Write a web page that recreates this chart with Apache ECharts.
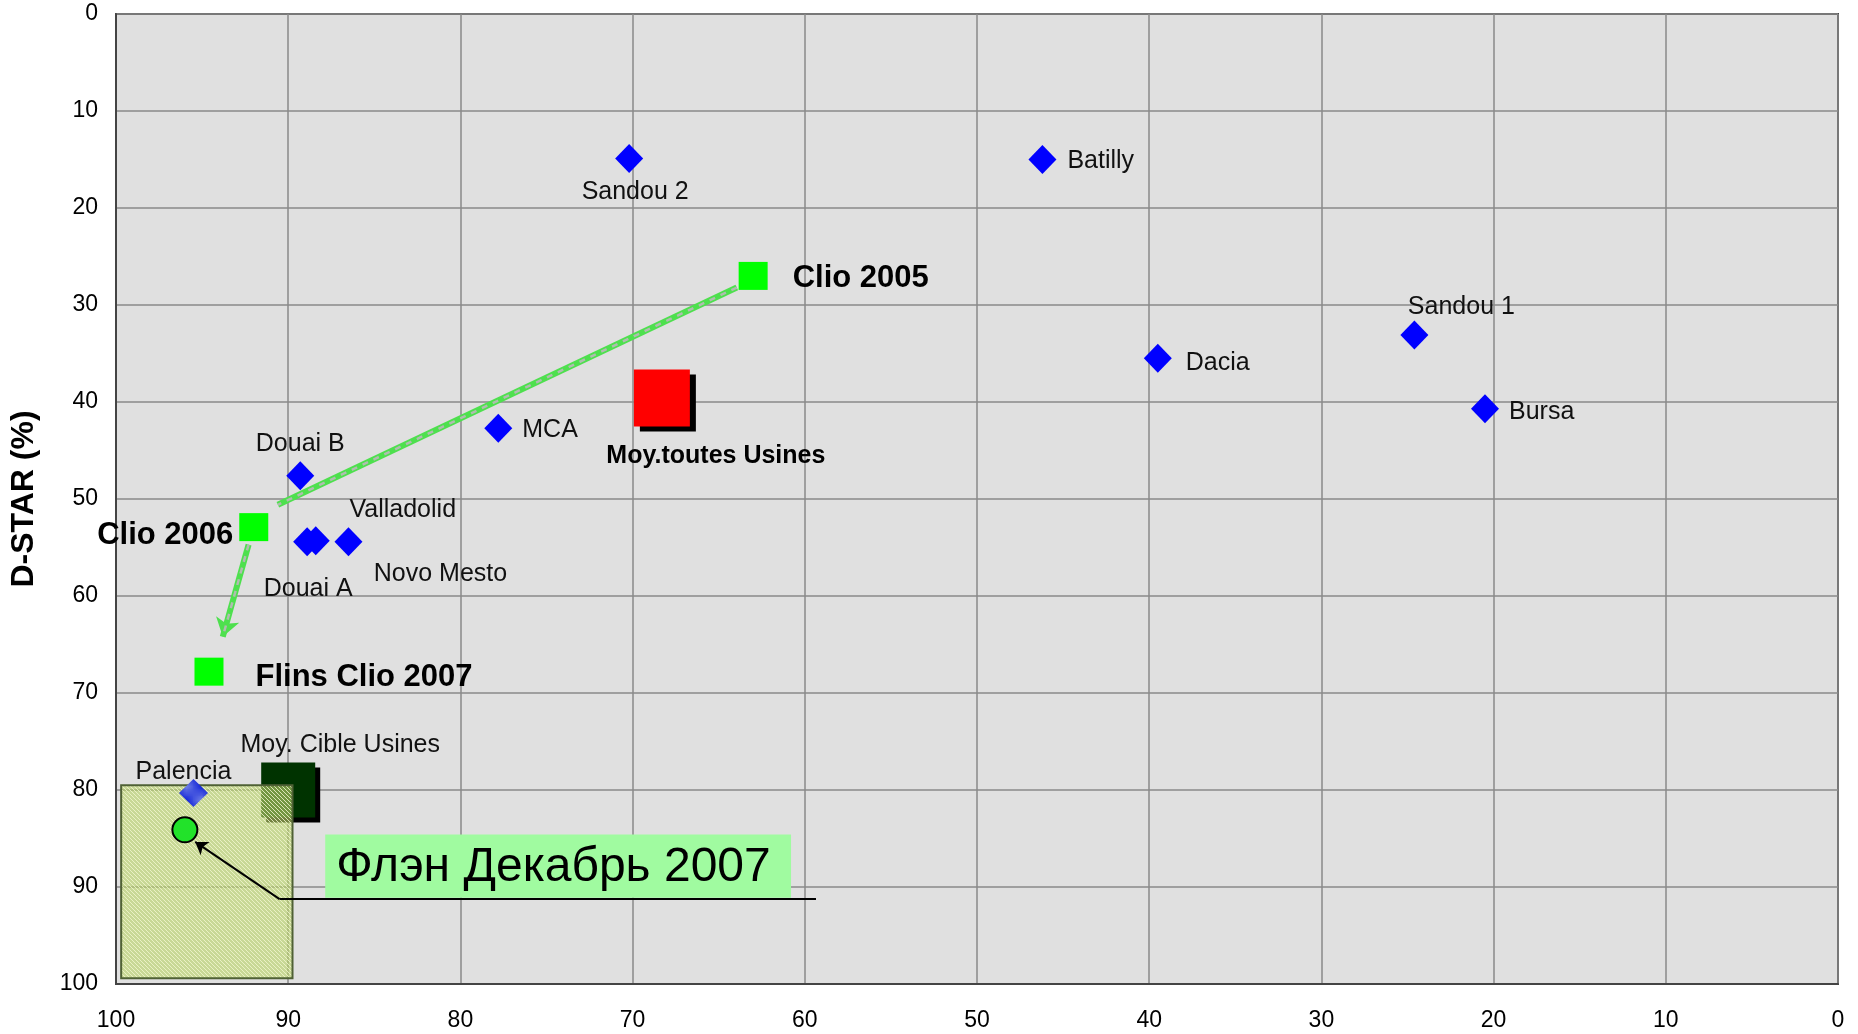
<!DOCTYPE html>
<html>
<head>
<meta charset="utf-8">
<script src="https://cdn.jsdelivr.net/npm/echarts@6/dist/echarts.min.js"></script>
<style>
html,body{margin:0;padding:0;background:#fff;}
#chart{width:1858px;height:1034px;}
</style>
</head>
<body>
<div id="chart"></div>
<script>
// ---------- DATA ----------
const axisTicks = [0, 10, 20, 30, 40, 50, 60, 70, 80, 90, 100];
const yAxisTitle = 'D-STAR (%)';

const plantNames = ['Sandou 2', 'Batilly', 'Sandou 1', 'Dacia', 'Bursa', 'MCA', 'Douai B', 'Douai A', 'Valladolid', 'Novo Mesto'];
const plantX     = [70.2, 46.2, 24.6, 39.5, 20.5, 77.8, 89.3, 88.9, 88.4, 86.5];
const plantY     = [14.9, 15.0, 33.1, 35.5, 40.7, 42.7, 47.6, 54.4, 54.3, 54.4];

const clioNames = ['Clio 2005', 'Clio 2006', 'Flins Clio 2007'];
const clioX     = [63.0, 92.0, 94.6];
const clioY     = [27.0, 52.9, 67.8];

const avgAllName = 'Moy.toutes Usines';
const avgAllX = 68.3, avgAllY = 39.6;
const avgTargetName = 'Moy. Cible Usines';
const avgTargetX = 90.0, avgTargetY = 80.0;
const palenciaName = 'Palencia';
const palenciaX = 95.5, palenciaY = 80.3;
const flinsDecX = 96.0, flinsDecY = 84.1;

const targetBox = [99.7, 79.5, 89.75, 99.4];          // x0, y0, x1, y1
const trendLine1 = [[63.95, 28.2], [90.6, 50.6]];
const trendLine2 = [[92.3, 54.7], [93.8, 64.2]];

const noteText = 'Флэн Декабрь 2007';
const noteBox = [87.85, 84.6, 60.8, 91.1];            // x0, y0, x1, y1
const noteLeaderArrow = [[90.5, 91.25], [95.4, 85.35]];
const noteLeaderLine  = [[90.5, 91.25], [59.35, 91.25]];

// ---------- STYLE (label placement) ----------
const plantLabelStyle = {
  'Sandou 2':   {position: 'inside', offset: [6, 34]},
  'Batilly':    {position: 'right', distance: 11, offset: [0, 2]},
  'Sandou 1':   {position: 'inside', offset: [47, -28]},
  'Dacia':      {position: 'right', distance: 14, offset: [0, 5]},
  'Bursa':      {position: 'right', distance: 10, offset: [0, 3]},
  'MCA':        {position: 'right', distance: 10, offset: [0, 2]},
  'Douai B':    {position: 'inside', offset: [0, -32]},
  'Douai A':    {position: 'inside', offset: [1, 47]},
  'Valladolid': {position: 'inside', offset: [87, -31]},
  'Novo Mesto': {position: 'inside', offset: [92, 32]}
};
const clioLabelStyle = {
  'Clio 2005':       {position: 'right', distance: 25, offset: [0, 3]},
  'Clio 2006':       {position: 'left', distance: 6, offset: [0, 8]},
  'Flins Clio 2007': {position: 'right', distance: 32, offset: [0, 6]}
};

const FONT = '"Liberation Sans", Arial, sans-serif';

function makePattern(base, dot) {
  const c = document.createElement('canvas');
  c.width = 4; c.height = 4;
  const g = c.getContext('2d');
  g.fillStyle = base;
  g.fillRect(0, 0, 4, 4);
  g.fillStyle = dot;
  [[0,0],[2,2],[1,1],[3,3]].forEach(function(p){ g.fillRect(p[0], p[1], 1, 1); });
  return c;
}
const hatch = makePattern('rgba(185,212,105,0.62)', 'rgba(240,246,205,0.85)');
const blueHatch = makePattern('#1426d8', '#7080e6');

const chart = echarts.init(document.getElementById('chart'), null, {renderer: 'canvas'});

const plantData = plantNames.map(function(n, i){
  const s = plantLabelStyle[n];
  return {name: n, value: [plantX[i], plantY[i]], label: Object.assign({show: true, formatter: n}, s)};
});
const clioData = clioNames.map(function(n, i){
  const s = clioLabelStyle[n];
  return {name: n, value: [clioX[i], clioY[i]], label: Object.assign({show: true, formatter: n}, s)};
});

function rectFrom(api, box) {
  const p0 = api.coord([box[0], box[1]]);
  const p1 = api.coord([box[2], box[3]]);
  return {
    x: Math.min(p0[0], p1[0]), y: Math.min(p0[1], p1[1]),
    width: Math.abs(p1[0] - p0[0]), height: Math.abs(p1[1] - p0[1])
  };
}

const option = {
  backgroundColor: '#ffffff',
  animation: false,
  grid: {
    left: 116, right: 20, top: 14, bottom: 50,
    show: true, backgroundColor: '#e0e0e0', borderColor: '#444', borderWidth: 2
  },
  xAxis: {
    type: 'value', inverse: true, min: axisTicks[0], max: axisTicks[axisTicks.length - 1], interval: 10,
    axisLine: {show: true, onZero: false, lineStyle: {color: '#444', width: 2}},
    axisTick: {show: false},
    splitLine: {show: true, lineStyle: {color: '#8a8a8a', width: 1.5}},
    axisLabel: {color: '#000', fontSize: 23, fontFamily: FONT, margin: 25}
  },
  yAxis: {
    type: 'value', inverse: true, min: axisTicks[0], max: axisTicks[axisTicks.length - 1], interval: 10,
    name: yAxisTitle, nameLocation: 'middle', nameRotate: 90, nameGap: 76,
    nameTextStyle: {color: '#000', fontSize: 32, fontWeight: 'bold', fontFamily: FONT},
    axisLine: {show: true, onZero: false, lineStyle: {color: '#444', width: 2}},
    axisTick: {show: false},
    splitLine: {show: true, lineStyle: {color: '#8a8a8a', width: 1.5}},
    axisLabel: {color: '#000', fontSize: 23, fontFamily: FONT, margin: 18}
  },
  series: [
    // trend lines (green dashed)
    {
      type: 'lines', coordinateSystem: 'cartesian2d', z: 3, symbol: ['none', 'none'],
      lineStyle: {color: '#4ee04e', width: 6, opacity: 1},
      data: [{coords: trendLine1}]
    },
    {
      type: 'lines', coordinateSystem: 'cartesian2d', z: 4, symbol: ['none', 'none'],
      lineStyle: {color: '#b0bcb0', width: 2.5, type: [6, 6], opacity: 1},
      data: [{coords: trendLine1}]
    },
    {
      type: 'lines', coordinateSystem: 'cartesian2d', z: 3, symbol: ['none', 'arrow'], symbolSize: [16, 18],
      lineStyle: {color: '#4ee04e', width: 6, opacity: 1},
      data: [{coords: trendLine2}]
    },
    {
      type: 'lines', coordinateSystem: 'cartesian2d', z: 4, symbol: ['none', 'none'],
      lineStyle: {color: '#b0bcb0', width: 2.5, type: [6, 6], opacity: 1},
      data: [{coords: trendLine2}]
    },
    // blue plants
    {
      type: 'scatter', z: 5, symbol: 'diamond', symbolSize: [28, 29],
      itemStyle: {color: '#0000ff', opacity: 1},
      label: {color: '#111', fontSize: 25, fontFamily: FONT},
      data: plantData
    },
    // Clio squares
    {
      type: 'scatter', z: 5, symbol: 'rect', symbolSize: [29, 28],
      itemStyle: {color: '#00ff00', opacity: 1},
      label: {color: '#000', fontSize: 31, fontWeight: 'bold', fontFamily: FONT},
      data: clioData
    },
    // average all plants
    {
      type: 'scatter', z: 5, symbol: 'rect', symbolSize: [56, 57],
      itemStyle: {color: '#ff0000', opacity: 1, shadowColor: '#000', shadowBlur: 0, shadowOffsetX: 6, shadowOffsetY: 5},
      label: {show: true, position: 'inside', offset: [54, 58], color: '#000', fontSize: 25, fontWeight: 'bold', fontFamily: FONT, formatter: avgAllName},
      data: [[avgAllX, avgAllY]]
    },
    // average target
    {
      type: 'scatter', z: 5, symbol: 'rect', symbolSize: [54, 55],
      itemStyle: {color: '#003300', opacity: 1, shadowColor: '#000', shadowBlur: 0, shadowOffsetX: 5, shadowOffsetY: 5},
      label: {show: true, position: 'inside', offset: [52, -45], color: '#111', fontSize: 25, fontFamily: FONT, formatter: avgTargetName},
      data: [[avgTargetX, avgTargetY]]
    },
    // target box (hatched)
    {
      type: 'custom', coordinateSystem: 'cartesian2d', z: 6, silent: true,
      data: [targetBox],
      renderItem: function(params, api){
        return {
          type: 'rect',
          shape: rectFrom(api, [api.value(0), api.value(1), api.value(2), api.value(3)]),
          style: {fill: {image: hatch, repeat: 'repeat'}, stroke: '#4f6135', lineWidth: 2}
        };
      }
    },
    // Palencia (hatched diamond, drawn over the box)
    {
      type: 'scatter', z: 7, symbol: 'diamond', symbolSize: [29, 28],
      itemStyle: {color: {image: blueHatch, repeat: 'repeat'}, opacity: 1},
      label: {show: true, position: 'inside', offset: [-10, -21], color: '#111', fontSize: 25, fontFamily: FONT, formatter: palenciaName},
      data: [[palenciaX, palenciaY]]
    },
    // Flins December 2007 circle
    {
      type: 'scatter', z: 8, symbol: 'circle', symbolSize: 25,
      itemStyle: {color: '#22e22a', opacity: 1, borderColor: '#000', borderWidth: 2},
      data: [[flinsDecX, flinsDecY]]
    },
    // annotation box + text
    {
      type: 'custom', coordinateSystem: 'cartesian2d', z: 7, silent: true,
      data: [noteBox],
      renderItem: function(params, api){
        const r = rectFrom(api, [api.value(0), api.value(1), api.value(2), api.value(3)]);
        return {
          type: 'group',
          children: [
            {type: 'rect', shape: r, style: {fill: '#a0fba0'}},
            {type: 'text', style: {
              text: noteText, x: r.x + 11, y: r.y + r.height / 2 + 2,
              fill: '#000', font: '48px ' + FONT, textAlign: 'left', textVerticalAlign: 'middle'
            }}
          ]
        };
      }
    },
    // leader lines
    {
      type: 'lines', coordinateSystem: 'cartesian2d', z: 9, symbol: ['none', 'arrow'], symbolSize: [9, 12],
      lineStyle: {color: '#000', width: 2, opacity: 1},
      data: [{coords: noteLeaderArrow}]
    },
    {
      type: 'lines', coordinateSystem: 'cartesian2d', z: 9, symbol: ['none', 'none'],
      lineStyle: {color: '#000', width: 2, opacity: 1},
      data: [{coords: noteLeaderLine}]
    }
  ]
};
chart.setOption(option);
</script>
</body>
</html>
